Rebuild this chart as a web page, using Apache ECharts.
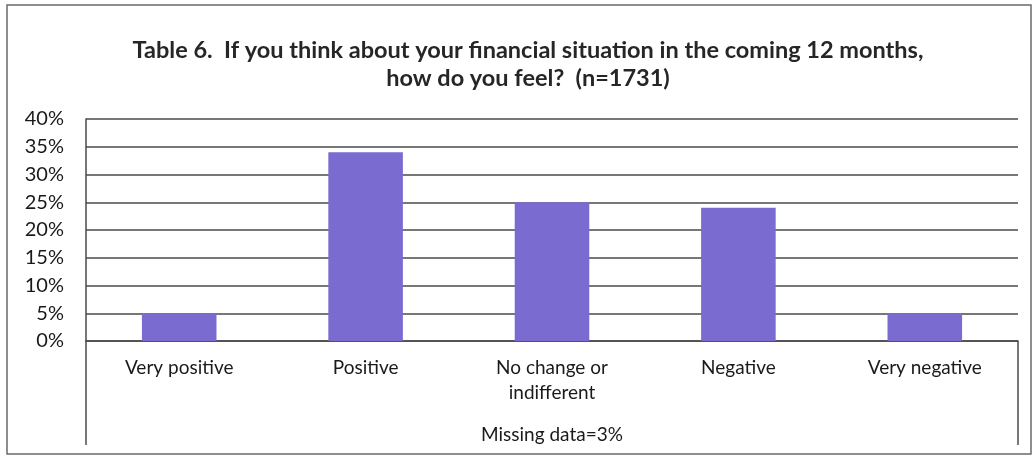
<!DOCTYPE html>
<html><head><meta charset="utf-8">
<script src="https://cdn.jsdelivr.net/npm/echarts@6/dist/echarts.min.js"></script>
<style>html,body{margin:0;padding:0;background:#fff}#c{width:1035px;height:457px}</style>
</head><body><div id="c"></div>
<script>
const categories = ['Very positive', 'Positive', 'No change or\nindifferent', 'Negative', 'Very negative'];
const values = [5, 34, 25, 24, 5];
const yTicks = [0, 5, 10, 15, 20, 25, 30, 35, 40];
const titleText = 'Table 6.  If you think about your financial situation in the coming 12 months,\nhow do you feel?  (n=1731)';
const footText = 'Missing data=3%';

const FONT = 'Lato, "Open Sans", sans-serif';
const chart = echarts.init(document.getElementById('c'), null, {renderer: 'canvas'});
const option = {
  backgroundColor: '#fff',
  animation: false,
  title: {
    text: titleText, left: 523, top: 31, textAlign: 'center',
    textStyle: {fontFamily: FONT, fontWeight: 'bold', fontSize: 23.5, color: '#262626', lineHeight: 28}
  },
  grid: {left: 86, right: 17, top: 119, bottom: 116},
  xAxis: {
    type: 'category', data: categories,
    name: footText, nameLocation: 'middle', nameGap: 84,
    nameTextStyle: {fontFamily: FONT, fontSize: 19, color: '#1a1a1a'},
    axisLine: {show: true, lineStyle: {color: '#4a4a4a', width: 1.5}},
    axisTick: {show: false},
    axisLabel: {fontFamily: FONT, fontSize: 19, color: '#1a1a1a', margin: 14, lineHeight: 25, interval: 0}
  },
  yAxis: {
    type: 'value', min: yTicks[0], max: yTicks[yTicks.length - 1], interval: 5,
    axisLine: {show: true, lineStyle: {color: '#4a4a4a', width: 1.5}},
    axisTick: {show: false},
    splitLine: {show: true, lineStyle: {color: '#4a4a4a', width: 1.5}},
    axisLabel: {fontFamily: FONT, fontSize: 20, color: '#1a1a1a', margin: 22, formatter: v => v + '%'}
  },
  series: [{
    type: 'bar', data: values, barWidth: '40%',
    itemStyle: {color: '#7a6bd0'}
  }]
};
chart.setOption(option);
const p0 = chart.convertToPixel({gridIndex: 0}, [0, 0]);
const x0 = 86, x1 = 1035 - 17;
const yb = p0[1];
chart.setOption({
  graphic: [
    {type: 'rect', shape: {x: 7, y: 5, width: 1024, height: 449}, style: {fill: 'none', stroke: '#6a6a6a', lineWidth: 1.5}, silent: true},
    {type: 'line', shape: {x1: x0, y1: yb, x2: x0, y2: 445}, style: {stroke: '#4a4a4a', lineWidth: 1.5}, silent: true},
    {type: 'line', shape: {x1: x1, y1: yb, x2: x1, y2: 445}, style: {stroke: '#4a4a4a', lineWidth: 1.5}, silent: true}
  ]
});
</script></body></html>
